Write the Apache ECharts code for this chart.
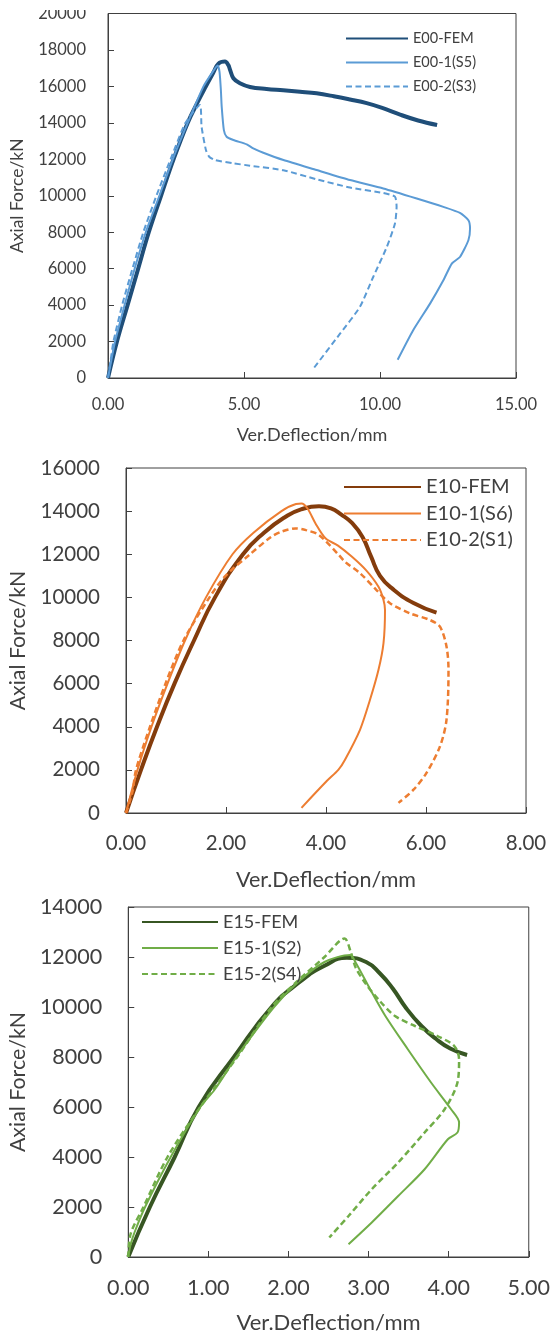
<!DOCTYPE html>
<html>
<head>
<meta charset="utf-8">
<script src="https://cdn.jsdelivr.net/npm/echarts/dist/echarts.min.js"></script>
<style>
body{margin:0;background:#fff}
#main{width:553px;height:1338px}
</style>
</head>
<body>
<div id="main"></div>
<script>
// chart 1 : E00
var e00Fem = [[0,0],[0.33,2000],[0.72,4000],[1.11,6000],[1.5,8000],[1.95,10000],[2.41,12000],[2.93,14000],[3.32,15200],[3.6,16000],[3.87,16750],[4.06,17250],[4.3,17360],[4.42,17180],[4.49,16900],[4.61,16450],[4.85,16170],[5.22,15970],[5.83,15860],[6.44,15790],[7.06,15710],[7.67,15620],[8.3,15460],[8.9,15280],[9.51,15080],[10.08,14820],[10.74,14450],[11.4,14130],[12.1,13880]];
var e00S5 = [[0,0],[0.26,2000],[0.61,4000],[0.98,6000],[1.39,8000],[1.89,10000],[2.38,12000],[2.93,14000],[3.51,16000],[3.85,16800],[4.03,17150],[4.1,16800],[4.15,15800],[4.18,14890],[4.26,13600],[4.36,13240],[4.61,13060],[5.1,12820],[5.34,12600],[5.71,12360],[6.45,11960],[7.67,11410],[8.9,10860],[10.12,10400],[11.35,9850],[12.33,9390],[12.94,9060],[13.25,8660],[13.31,8200],[13.25,7560],[12.94,6640],[12.64,6280],[12.33,5360],[11.84,4080],[11.22,2620],[10.65,1000]];
var e00S3 = [[0,0],[0.1,1000],[0.2,2000],[0.52,4000],[0.9,6000],[1.3,8000],[1.78,10000],[2.3,12000],[2.85,14000],[3.38,14980],[3.44,13790],[3.6,12510],[3.72,12140],[3.93,11960],[4.61,11780],[5.22,11650],[6.45,11400],[7.67,10900],[8.9,10450],[10.12,10150],[10.55,9950],[10.61,9390],[10.55,8480],[10.25,7190],[9.75,5540],[9.26,3900],[8.53,2430],[7.55,510]];

// chart 2 : E10
var e10Fem = [[0,0],[0.3,2000],[0.62,4000],[0.97,6000],[1.36,8000],[1.78,10000],[2.34,12000],[2.76,13000],[3.2,13750],[3.5,14080],[3.86,14230],[4.1,14130],[4.3,13850],[4.52,13450],[4.73,12800],[4.9,11900],[5.08,11000],[5.35,10360],[5.75,9740],[6.21,9290]];
var e10S6 = [[0,0],[0.23,2000],[0.51,4000],[0.83,6000],[1.18,8000],[1.6,10000],[2.13,12000],[2.55,13000],[3.11,14000],[3.4,14330],[3.51,14350],[3.63,14120],[3.79,13430],[3.99,12740],[4.24,12400],[4.52,11880],[4.8,11260],[5.05,10490],[5.15,9880],[5.18,9420],[5.15,7880],[5.05,6640],[4.88,5250],[4.68,3860],[4.38,2470],[4.25,2010],[4.01,1470],[3.51,240]];
var e10S1 = [[0,0],[0.13,1000],[0.2,2000],[0.48,4000],[0.79,6000],[1.15,8000],[1.67,10000],[1.99,11000],[2.48,12000],[2.9,12800],[3.11,13050],[3.39,13200],[3.6,13120],[3.86,12890],[4.26,11960],[4.38,11650],[4.68,11120],[5.01,10340],[5.28,9730],[5.68,9260],[6.08,8950],[6.28,8640],[6.41,7720],[6.45,6640],[6.41,4320],[6.28,3090],[6.01,1860],[5.75,1080],[5.45,470]];

// chart 3 : E15
var e15Fem = [[0,0],[0.27,2000],[0.58,4000],[0.88,6000],[1.32,8000],[1.79,10000],[2.14,11000],[2.45,11650],[2.73,11970],[2.97,11800],[3.14,11350],[3.3,10750],[3.47,9950],[3.66,9240],[3.84,8730],[4.02,8340],[4.23,8080]];
var e15S2 = [[0,0],[0.03,500],[0.08,1000],[0.21,2000],[0.53,4000],[0.9,6000],[1.08,6700],[1.35,8000],[1.82,10000],[2.12,11000],[2.45,11800],[2.77,12080],[2.84,11770],[3.02,10710],[3.21,9640],[3.49,8310],[3.78,6980],[4.03,5910],[4.13,5380],[4.11,4980],[3.99,4710],[3.7,3510],[3.37,2440],[3.04,1380],[2.75,510]];
var e15S4 = [[0,0],[0.03,930],[0.19,2000],[0.49,4000],[0.9,6000],[1.36,8000],[1.79,10000],[2.1,11000],[2.45,12000],[2.7,12740],[2.78,12180],[2.84,11570],[2.97,10910],[3.14,10240],[3.33,9640],[3.58,9240],[3.86,8840],[4.07,8440],[4.13,7910],[4.11,6980],[3.95,5910],[3.7,4980],[3.37,3780],[3.04,2710],[2.75,1640],[2.51,780]];

var txt = '#404040';
var axc = '#404040';
var ff = 'Lato';

function xAx(idx, max, interval, fs, margin, nfs, gap) {
    return {
        type: 'value', gridIndex: idx, min: 0, max: max, interval: interval,
        name: 'Ver.Deflection/mm', nameLocation: 'middle', nameGap: gap,
        nameTextStyle: {fontSize: nfs, color: txt, fontFamily: ff},
        axisLine: {show: true, lineStyle: {color: axc, width: 1}},
        axisTick: {show: true, inside: true, length: 6, lineStyle: {color: axc}},
        axisLabel: {fontSize: fs, color: txt, fontFamily: ff, margin: margin,
            formatter: function (v) { return v.toFixed(2); }},
        splitLine: {show: false}
    };
}
function yAx(idx, max, fs, margin, nfs, gap) {
    return {
        type: 'value', gridIndex: idx, min: 0, max: max, interval: 2000,
        name: 'Axial Force/kN', nameLocation: 'middle', nameGap: gap,
        nameTextStyle: {fontSize: nfs, color: txt, fontFamily: ff},
        axisLine: {show: true, lineStyle: {color: axc, width: 1}},
        axisTick: {show: true, inside: true, length: 6, lineStyle: {color: axc}},
        axisLabel: {fontSize: fs, color: txt, fontFamily: ff, margin: margin,
            formatter: function (v) { return String(v); }},
        splitLine: {show: false}
    };
}
function ser(name, data, color, width, dash, idx, sm) {
    return {
        name: name, type: 'line', data: data, xAxisIndex: idx, yAxisIndex: idx,
        symbol: 'none', showSymbol: false, smooth: sm,
        itemStyle: {color: color},
        lineStyle: {color: color, width: width, type: dash ? [6, 3.5] : 'solid'}
    };
}
function leg(names, left, top, w, fs, gap) {
    return {
        orient: 'vertical', left: left, top: top, padding: 0,
        itemWidth: w, itemHeight: 12, itemGap: gap,
        itemStyle: {opacity: 0},
        textStyle: {fontSize: fs, lineHeight: fs, color: txt, fontFamily: ff},
        data: names
    };
}

var myChart = echarts.init(document.getElementById('main'));
var option = {
    animation: false,
    backgroundColor: '#fff',
    grid: [
        {left: 108, top: 13.5, width: 408, height: 364.5, show: true, borderColor: axc, borderWidth: 1},
        {left: 126, top: 468, width: 400, height: 345, show: true, borderColor: axc, borderWidth: 1},
        {left: 126.5, top: 907, width: 405, height: 350, show: true, borderColor: axc, borderWidth: 1}
    ],
    xAxis: [
        xAx(0, 15, 5, 16.5, 18, 18, 48),
        xAx(1, 8, 2, 20.5, 20, 21.5, 56),
        xAx(2, 5, 1, 21.5, 20, 22, 55)
    ],
    yAxis: [
        yAx(0, 20000, 16.5, 22, 17.5, 82),
        yAx(1, 16000, 20.5, 26, 21.3, 97),
        yAx(2, 14000, 21.5, 26, 21.4, 96)
    ],
    legend: [
        leg(['E00-FEM', 'E00-1(S5)', 'E00-2(S3)'], 345, 31, 62, 14.5, 9),
        leg(['E10-FEM', 'E10-1(S6)', 'E10-2(S1)'], 343, 477, 77, 20, 6.5),
        leg(['E15-FEM', 'E15-1(S2)', 'E15-2(S4)'], 141, 913, 76, 18, 8)
    ],
    // the source figure is trimmed across the top of the first y label
    graphic: [{type: 'rect', left: 0, top: 0, shape: {width: 100, height: 10}, style: {fill: '#fff'}, z: 100}],
    series: [
        ser('E00-FEM', e00Fem, '#1f4e79', 4, false, 0, 0.4),
        ser('E00-1(S5)', e00S5, '#5b9bd5', 2, false, 0, 0.2),
        ser('E00-2(S3)', e00S3, '#5b9bd5', 2, true, 0, 0.2),
        ser('E10-FEM', e10Fem, '#843c0c', 4, false, 1, 0.5),
        ser('E10-1(S6)', e10S6, '#ed7d31', 2, false, 1, 0.3),
        ser('E10-2(S1)', e10S1, '#ed7d31', 2.5, true, 1, 0.3),
        ser('E15-FEM', e15Fem, '#375623', 4, false, 2, 0.5),
        ser('E15-1(S2)', e15S2, '#70ad47', 2, false, 2, 0.3),
        ser('E15-2(S4)', e15S4, '#70ad47', 2.5, true, 2, 0.3)
    ]
};
myChart.setOption(option);
</script>
</body>
</html>
